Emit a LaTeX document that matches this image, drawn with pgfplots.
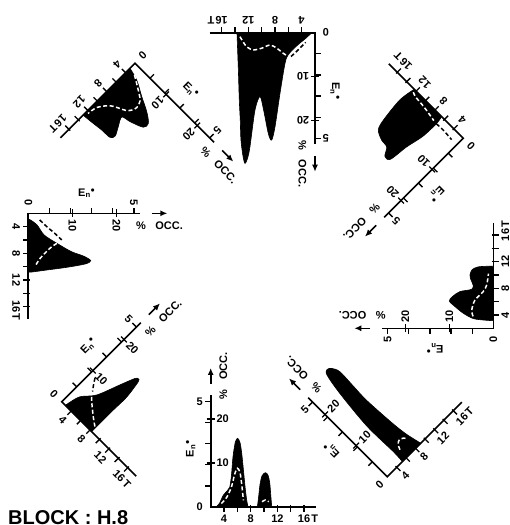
\documentclass[border=0pt]{standalone}
\usepackage{fontspec}
\setmainfont{Liberation Sans}
\usepackage{pgfplots}
\pgfplotsset{compat=1.18}
\usetikzlibrary{arrows.meta}

\newcommand\pa{0}
\newcommand\lblfont{\fontsize{11}{12}\selectfont\bfseries}
\tikzset{
  lbl/.style={font=\lblfont, rotate=\pa, inner sep=1pt},
  axl/.style={line width=1.6pt, line cap=butt},
  tkl/.style={line width=1.3pt},
}
\pgfplotsset{
  panel/.style={
    x={({6.67pt*cos(\pa)},{6.67pt*sin(\pa)})},
    y={({-4.4pt*sin(\pa)},{4.4pt*cos(\pa)})},
    anchor=origin,
    xmin=2, xmax=17.8, ymin=0, ymax=25.4,
    hide axis,
    clip=false,
  },
  shape/.style={fill=black, draw=black, line width=0.6pt, smooth, no markers},
  dashw/.style={draw=white, line width=1.5pt, dash pattern=on 4pt off 2.5pt, smooth, no markers},
  dashb/.style={draw=black, line width=1.5pt, dash pattern=on 4pt off 2.5pt, smooth, no markers},
}
\newcommand\panelextras{%
  % axis lines
  \draw[axl] (axis cs:17.8,0) -- (axis cs:2,0) -- (axis cs:2,25.4);
  % T ticks
  \draw[tkl] (axis cs:4,0.4) -- (axis cs:4,-1.2) (axis cs:6,0.4) -- (axis cs:6,-1.2)
             (axis cs:8,0.4) -- (axis cs:8,-1.2) (axis cs:10,0.4) -- (axis cs:10,-1.2)
             (axis cs:12,0.4) -- (axis cs:12,-1.2) (axis cs:14,0.4) -- (axis cs:14,-1.2)
             (axis cs:16,0.4) -- (axis cs:16,-1.2);
  % En* ticks (outside)
  \draw[tkl] (axis cs:2,4.8) -- (axis cs:1.15,4.8) (axis cs:2,9.6) -- (axis cs:1.15,9.6)
             (axis cs:2,14.4) -- (axis cs:1.15,14.4) (axis cs:2,19.2) -- (axis cs:1.15,19.2)
             (axis cs:2,24) -- (axis cs:1.15,24);
  % percent ticks (crossing)
  \draw[tkl] (axis cs:1.4,10) -- (axis cs:2.6,10) (axis cs:1.4,20) -- (axis cs:2.6,20);
  % tick labels
  \node[lbl,anchor=north] at (axis cs:4,-1.6) {4};
  \node[lbl,anchor=north] at (axis cs:8,-1.6) {8};
  \node[lbl,anchor=north] at (axis cs:12,-1.6) {12};
  \node[lbl,anchor=north] at (axis cs:16,-1.6) {16};
  \node[lbl,anchor=north] at (axis cs:17.6,-1.6) {T};
  \node[lbl,anchor=east] at (axis cs:1.0,0) {0};
  \node[lbl,anchor=east] at (axis cs:1.0,24) {5};
  \node[lbl,anchor=west] at (axis cs:2.7,10) {10};
  \node[lbl,anchor=west] at (axis cs:2.7,20) {20};
  % arrow and descriptions
  \draw[line width=1.6pt,-{Latex[length=7pt,width=6pt]}] (axis cs:2,28) -- (axis cs:2,31.6);
  \node[lbl,rotate=90] at (axis cs:3.9,32) {OCC.};
  \node[lbl,rotate=90] at (axis cs:3.9,25.6) {\%};
  \node[lbl,rotate=90] at (axis cs:-1.0,13.3) {E\textsubscript{n}$^{\bullet}$};
}

\begin{document}
\begin{tikzpicture}
\path[use as bounding box] (0,0) rectangle (509pt,-525pt);

% S
\renewcommand\pa{0}
\begin{axis}[panel, at={(210.7pt,-507pt)}]
\addplot[shape] coordinates {(2.8,0)(3.3,0.8)(3.9,2.7)(4.5,3.7)(4.85,4.5)(5.1,7)(5.35,11.5)(5.7,14.8)(6.05,15.6)(6.4,14.6)(6.65,12.2)(6.9,8.5)(7.15,4.6)(7.4,1.5)(7.6,0)} -- cycle;
\addplot[shape] coordinates {(9.0,0)(9.2,2.5)(9.4,5.2)(9.7,7.1)(10.2,7.8)(10.6,7.2)(10.85,5.5)(11.0,2.8)(11.15,0)} -- cycle;
\addplot[dashw] coordinates {(3.6,0.8)(4.4,2.2)(5.1,4.5)(5.6,7.5)(6.0,8.8)(6.4,7.8)(6.7,4.5)(6.9,1.5)};
\addplot[dashw] coordinates {(9.7,1.2)(10.2,1.6)(10.7,1.2)};
\panelextras
\end{axis}

% SE
\renewcommand\pa{45}
\begin{axis}[panel, at={(387.3pt,-476.7pt)}]
\addplot[shape] coordinates {(5.2,0)(5.3,3)(5.2,11.4)(5.8,21)(6.4,26.1)(7.0,26.9)(7.6,26.3)(8.1,24.5)(8.0,20)(7.9,15.6)(8.2,8)(8.5,4)(9.0,0.6)(9.1,0)} -- cycle;
\addplot[dashw] coordinates {(6.2,2.3)(6.6,3.5)(7.2,4.0)(7.8,3.6)(8.1,3.0)};
\panelextras
\end{axis}

% E
\renewcommand\pa{90}
\begin{axis}[panel, at={(493.3pt,-328.3pt)}]
\addplot[shape] coordinates {(3.15,0)(3.2,1.5)(3.45,4.5)(4.25,6.8)(5.2,8.6)(6.1,10)(6.8,9.2)(7.5,7.6)(7.85,4.9)(8.5,4.6)(9.3,5.1)(10.0,5.3)(10.8,4.8)(11.2,3.5)(11.3,1.5)(11.3,0)} -- cycle;
\addplot[dashw] coordinates {(3.8,4.6)(4.7,4.9)(6.2,4.2)(7.5,2.3)(8.5,1.5)(10.2,1.1)};
\panelextras
\end{axis}

% NE
\renewcommand\pa{135}
\begin{axis}[panel, at={(463.3pt,-138.3pt)}]
\addplot[shape] coordinates {(12.4,0)(12.8,4.0)(12.4,9.9)(11.9,12.3)(10.5,13.4)(9.2,13.7)(8.4,15.5)(7.5,15.1)(7.1,10.5)(6.5,6.2)(6.4,1.9)(6.6,0)} -- cycle;
\addplot[dashw] coordinates {(12.2,0.6)(11.5,1.0)(10,1.2)(8.9,1.4)(7.0,1.9)};
\addplot[dashb] coordinates {(6.4,2.0)(5.0,1.9)(3.1,2.1)};
\panelextras
\end{axis}

% N
\renewcommand\pa{180}
\begin{axis}[panel, at={(315pt,-32.7pt)}]
\addplot[shape] coordinates {(13.7,0)(13.5,8)(13.35,15.3)(13.2,20)(13.1,24.4)(12.8,28)(12.5,29.7)(12.1,28.5)(11.75,25.9)(11.0,17.6)(10.25,14.5)(9.7,17.6)(9.0,22.9)(8.5,24.4)(8.0,21.4)(7.25,13.8)(6.5,7)(6.0,5)(4.75,3.0)(3.25,1.1)(2.5,0)} -- cycle;
\addplot[dashw] coordinates {(13.25,0.9)(12.25,3.2)(11.2,3.9)(9.95,3.5)(8.75,2.8)(7.75,3.5)(6.75,4.7)(6.0,5.4)};
\addplot[dashb] coordinates {(5.6,5.4)(5.0,4.6)(4.2,3.4)(3.4,2.2)};
\panelextras
\end{axis}

% NW
\renewcommand\pa{225}
\begin{axis}[panel, at={(135pt,-63.3pt)}]
\addplot[shape] coordinates {(3.06,0)(3.6,3.0)(4.8,6.4)(5.9,9.7)(6.95,11.8)(7.9,11.6)(8.7,8.6)(9.1,6.5)(10.5,7.5)(11.8,8.5)(12.5,7.9)(12.6,5.4)(12.8,2.9)(13.0,0)} -- cycle;
\addplot[dashw] coordinates {(3.3,1.8)(4.4,4.6)(5.4,6.8)(6.5,7.4)(7.3,7.0)(8.0,6.0)(9.1,2.9)(10.7,1.0)(12.3,0.5)};
\panelextras
\end{axis}

% W
\renewcommand\pa{270}
\begin{axis}[panel, at={(28.3pt,-213.3pt)}]
\addplot[shape] coordinates {(2.9,0)(3.0,0.5)(3.75,2.0)(5.25,3.6)(6.5,6.5)(7.75,9.8)(8.4,12.5)(9.1,14.2)(9.6,12.9)(10.1,8.7)(10.5,4.2)(10.8,0.8)(10.8,0)} -- cycle;
\addplot[dashb] coordinates {(3.0,2.6)(4.0,4.2)(5.0,6.0)(6.0,7.6)};
\addplot[dashw] coordinates {(6.5,6.5)(7.25,4.9)(8.75,2.7)(10.0,1.5)};
\panelextras
\end{axis}

% SW
\renewcommand\pa{315}
\begin{axis}[panel, at={(61.7pt,-401.7pt)}]
\addplot[shape] coordinates {(2.8,0)(2.87,0.8)(3.4,3.7)(5.0,6.7)(6.4,12.1)(7.3,15.5)(7.7,16)(8.0,15.5)(8.4,11.2)(8.35,7.0)(8.35,2.7)(8.35,0)} -- cycle;
\addplot[dashb] coordinates {(3.0,9.2)(3.6,7.8)(4.2,6.6)};
\addplot[dashw] coordinates {(4.65,5.6)(5.2,4.8)(6.9,2.7)(8.2,1.3)};
\panelextras
\end{axis}

\node[anchor=base west, font=\fontsize{20}{24}\selectfont\bfseries, inner sep=0pt] at (8pt,-524pt) {BLOCK : H.8};
\end{tikzpicture}
\end{document}
